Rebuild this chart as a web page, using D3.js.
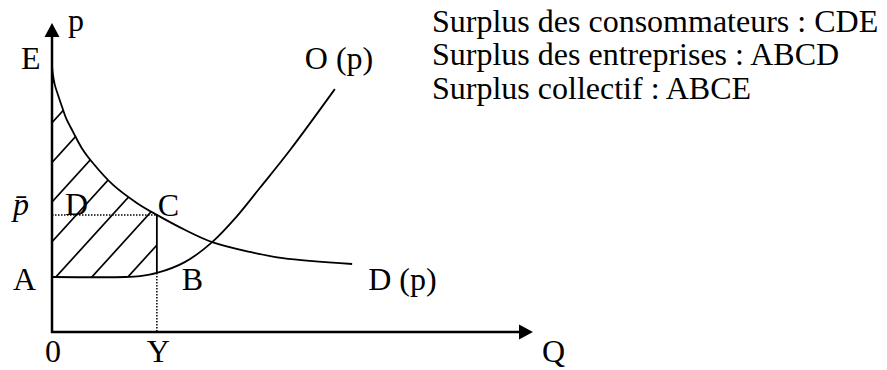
<!DOCTYPE html>
<html>
<head>
<meta charset="utf-8">
<script src="https://cdn.jsdelivr.net/npm/d3@7"></script>
<style>
  html, body { margin: 0; padding: 0; background: #fff; }
  svg { display: block; }
  text { font-family: "Liberation Serif", "Times New Roman", serif; font-size: 32px; fill: #000; }
</style>
</head>
<body>
<svg id="chart" width="887" height="370"></svg>
<script>
// ---- data (quantity Q, price p in arbitrary units 0..100) ----
const demandQ = [0, 0.2, 0.6, 1.25, 2.1, 2.9, 4.4, 6.2, 8.5, 12.7, 17.7, 21.8, 27.7, 33.3, 41.2, 48.0, 62.4];
const demandP = [86.1, 83.2, 79.9, 76.7, 72.8, 69.3, 64.7, 59.5, 54.7, 47.6, 41.7, 37.9, 33.0, 29.1, 25.9, 23.9, 22.0];
const supplyQ = [0, 15.2, 18.3, 21.8, 27.7, 33.3, 38.3, 43.2, 49.5, 58.8];
const supplyP = [17.8, 17.8, 18.1, 19.1, 22.7, 29.1, 37.2, 46.6, 58.9, 78.6];
const equilibriumQ = 21.8;   // Y
const equilibriumP = 37.9;   // p bar
const minPrice = 17.8;       // A
const legendLines = [
  "Surplus des consommateurs : CDE",
  "Surplus des entreprises : ABCD",
  "Surplus collectif : ABCE"
];

const svg = d3.select("#chart");
const x = d3.scaleLinear().domain([0, 100]).range([52, 533]);
const y = d3.scaleLinear().domain([0, 100]).range([332, 23]);

const demand = demandQ.map((q, i) => [q, demandP[i]]);
const supply = supplyQ.map((q, i) => [q, supplyP[i]]);
const line = d3.line().x(d => x(d[0])).y(d => y(d[1])).curve(d3.curveCatmullRom.alpha(0.5));

// ---- clip paths for hatched area ----
const defs = svg.append("defs");
defs.append("clipPath").attr("id", "belowDemand").append("path")
  .attr("d", line(demand) + `L${x(demandQ[demandQ.length-1])},${y(0)}L${x(0)},${y(0)}Z`);
defs.append("clipPath").attr("id", "aboveSupply").append("path")
  .attr("d", line(supply) + `L${x(supplyQ[supplyQ.length-1])},${y(100)}L${x(0)},${y(100)}Z`);
defs.append("clipPath").attr("id", "leftOfEq").append("rect")
  .attr("x", x(0)).attr("y", y(100)).attr("width", x(equilibriumQ) - x(0)).attr("height", y(0) - y(100));

const hatch = svg.append("g").attr("clip-path", "url(#belowDemand)")
  .append("g").attr("clip-path", "url(#aboveSupply)")
  .append("g").attr("clip-path", "url(#leftOfEq)");
const slope = 1.1, spacing = 36, anchor = x(equilibriumQ) - 29, yA = y(minPrice);
const hatchStarts = d3.range(-8, 3).map(k => anchor + k * spacing);
hatch.selectAll("line").data(hatchStarts).join("line")
  .attr("x1", d => d - 50).attr("y1", yA + 50 * slope)
  .attr("x2", d => d + 300).attr("y2", yA - 300 * slope)
  .attr("stroke", "#000").attr("stroke-width", 1.7);

// ---- curves ----
svg.append("path").attr("d", line(demand)).attr("fill", "none").attr("stroke", "#000").attr("stroke-width", 1.8);
svg.append("path").attr("d", line(supply)).attr("fill", "none").attr("stroke", "#000").attr("stroke-width", 1.8);

// ---- equilibrium lines ----
const supplyAtEq = supplyP[supplyQ.indexOf(equilibriumQ)];
svg.append("line").attr("x1", x(0)).attr("x2", x(equilibriumQ)).attr("y1", y(equilibriumP)).attr("y2", y(equilibriumP))
  .attr("stroke", "#000").attr("stroke-width", 1.5).attr("stroke-dasharray", "1.5,1.5");
svg.append("line").attr("x1", x(equilibriumQ)).attr("x2", x(equilibriumQ)).attr("y1", y(equilibriumP)).attr("y2", y(supplyAtEq))
  .attr("stroke", "#000").attr("stroke-width", 1.8);
svg.append("line").attr("x1", x(equilibriumQ)).attr("x2", x(equilibriumQ)).attr("y1", y(supplyAtEq)).attr("y2", y(0))
  .attr("stroke", "#000").attr("stroke-width", 1.5).attr("stroke-dasharray", "1.5,1.5");

// ---- axes ----
const ah = 14, aw = 7.5;
svg.append("line").attr("x1", x(0)).attr("x2", x(0)).attr("y1", y(0) + 1).attr("y2", y(100) + ah)
  .attr("stroke", "#000").attr("stroke-width", 2.5);
svg.append("line").attr("x1", x(0) - 1).attr("x2", x(100) - ah).attr("y1", y(0)).attr("y2", y(0))
  .attr("stroke", "#000").attr("stroke-width", 2.5);
svg.append("path").attr("d", `M${x(0)},${y(100)}L${x(0)-aw},${y(100)+ah}L${x(0)+aw},${y(100)+ah}Z`).attr("fill", "#000");
svg.append("path").attr("d", `M${x(100)},${y(0)}L${x(100)-ah},${y(0)-aw}L${x(100)-ah},${y(0)+aw}Z`).attr("fill", "#000");

// ---- labels ----
const label = (t, px, py) => svg.append("text").attr("x", px).attr("y", py).text(t);
label("p", x(0) + 16, y(100) + 8);
label("E", x(0) - 31, 69);
label("O (p)", x(supplyQ[supplyQ.length-1]) - 30, 69);
svg.append("text").attr("x", x(0) - 39).attr("y", y(equilibriumP)).style("font-style", "italic").text("p\u0304");
label("D", x(0) + 13, y(equilibriumP));
label("C", x(equilibriumQ) + 1, y(equilibriumP) + 1);
label("A", x(0) - 39, 290);
label("B", x(equilibriumQ) + 25, 290);
label("D (p)", x(demandQ[demandQ.length-1]) + 16, 290);
label("0", x(0) - 7, 362);
label("Y", x(equilibriumQ) - 10, 362);
label("Q", x(100) + 9, 362);

svg.append("g").selectAll("text").data(legendLines).join("text")
  .attr("x", 432).attr("y", (d, i) => 32 + i * 33.3).text(d => d);
</script>
</body>
</html>
